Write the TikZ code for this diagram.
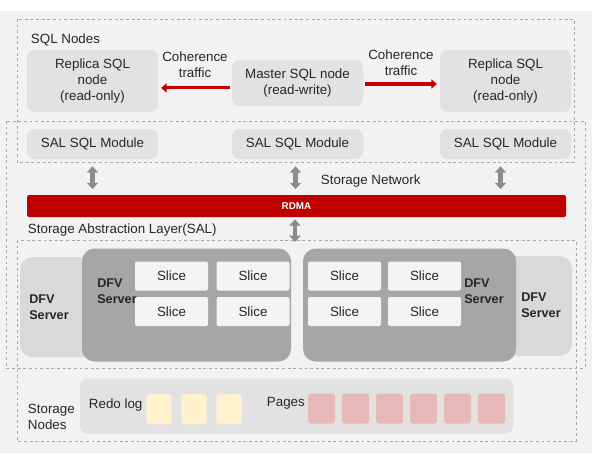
\documentclass[tikz,border=0pt]{standalone}
\usepackage{fontspec}
\setmainfont{Liberation Sans}
\usetikzlibrary{arrows.meta}
\definecolor{bgcol}{HTML}{F2F2F2}
\definecolor{boxgray}{HTML}{E2E2E2}
\definecolor{lightsrv}{HTML}{D9D9D9}
\definecolor{darksrv}{HTML}{A6A6A6}
\definecolor{slicecol}{HTML}{F4F4F4}
\definecolor{rdmared}{HTML}{C00000}
\definecolor{framecol}{HTML}{A8A8A8}
\definecolor{arrowgray}{HTML}{8C8C8C}
\definecolor{redocol}{HTML}{FFF2CC}
\definecolor{pagecol}{HTML}{E6B8B7}

\begin{document}
\begin{tikzpicture}[x=0.025cm,y=-0.025cm,
  font=\fontsize{9.5}{11.5}\selectfont, text=black!85,
  frame/.style={draw=framecol,line width=0.6pt,dash pattern=on 2pt off 2pt},
  box/.style 2 args={fill=boxgray,rounded corners=5pt,align=center,inner sep=0pt,
    minimum width=#1*0.025cm,minimum height=#2*0.025cm},
  srvback/.style 2 args={box={#1}{#2},fill=lightsrv,rounded corners=9pt},
  srvfront/.style 2 args={box={#1}{#2},fill=darksrv,rounded corners=9pt},
  srvlabel/.style={font=\bfseries\fontsize{9}{11.5}\selectfont,align=left,inner sep=0pt},
  slice/.style={box={73}{29},fill=slicecol,rounded corners=1.5pt},
  rdmabar/.style={box={539}{22},fill=rdmared,text=white,rounded corners=1.5pt,
    font=\bfseries\fontsize{7}{8}\selectfont},
  cohtraffic/.style={draw=rdmared,line width=2.2pt,-{Triangle[length=4pt,width=6.5pt]},
    shorten <=1.5pt,shorten >=2pt},
  dbl/.style={draw=arrowgray,line width=3pt,
    {Triangle[length=4.5pt,width=8pt]}-{Triangle[length=4.5pt,width=8pt]}},
  redo/.style={box={25}{30},fill=redocol,draw=redocol!80!black!30,rounded corners=2pt},
  page/.style={box={27}{30},fill=pagecol,rounded corners=2pt}]

\fill[bgcol] (0,11) rectangle (592,453);
\useasboundingbox (0,0) rectangle (602,453);

\draw[frame] (17,19) rectangle (574,162);
\draw[frame] (6,121) rectangle (585,368);
\draw[frame] (17,240) rectangle (576,441);

\node[anchor=west] (sqltitle) at (26,40) {SQL Nodes};
\node[box={131}{62}] (replicaL) at (92.5,81) {Replica SQL\\node\\(read-only)};
\node[box={131}{46}] (master) at (297.5,83) {Master SQL node\\(read-write)};
\node[box={131}{62}] (replicaR) at (505.5,81) {Replica SQL\\node\\(read-only)};
\node[align=center] (cohL) at (195,65) {Coherence\\traffic};
\node[align=center] (cohR) at (401,63) {Coherence\\traffic};
\draw[cohtraffic] ([yshift=-3.5pt]master.west) -- ([yshift=-3.5pt]master.west -| replicaL.east);
\draw[cohtraffic] ([yshift=-0.7pt]master.east) -- ([yshift=-0.7pt]master.east -| replicaR.west);

\foreach \n/\x in {salL/92.5,salM/297.5,salR/505.5}
  \node[box={131}{30}] (\n) at (\x,144) {SAL SQL Module};
\node[rdmabar] (rdma) at (296.5,206) {RDMA};
\foreach \n/\dx in {salL/0,salM/-2,salR/-5}
  \draw[dbl,shorten <=5pt,shorten >=4pt] ([xshift=\dx*0.025cm]\n.south)
    -- ([xshift=\dx*0.025cm]rdma.north -| \n.south);
\node[anchor=west] (stnet) at (316,181) {Storage Network};
\node[anchor=west] (saltitle) at (23,230) {Storage Abstraction Layer(SAL)};
\coordinate (dfvtop) at (295,242);
\draw[dbl,shorten <=1.5pt] (rdma.south -| dfvtop) -- (dfvtop);

\node[srvback={212}{100}] (dfvBackL) at (126,307) {};
\node[srvback={208}{100}] (dfvBackR) at (468,306) {};
\node[srvlabel,anchor=west] (lblBackL) at (29,307) {DFV\\Server};
\node[srvlabel,anchor=west] (lblBackR) at (521,305) {DFV\\Server};
\node[srvfront={209}{113}] (dfvL) at (186.5,305) {};
\node[srvfront={213}{113}] (dfvR) at (409.5,305) {};
\node[srvlabel,anchor=west] (lblL) at (97,291) {DFV\\Server};
\node[srvlabel,anchor=west] (lblR) at (464,291) {DFV\\Server};
\foreach \x [count=\i] in {171.5,253,344.5,424.5}
  \foreach \y [count=\j] in {276,311.5}
    \node[slice] (slice\i\j) at (\x,\y) {Slice};

\node[box={433}{55}] (storage) at (296.5,406) {};
\node[anchor=west,align=left] (stlabel) at (23,417) {Storage\\Nodes};
\node[anchor=west] (redolbl) at (84,405) {Redo log};
\foreach \i in {1,2,3}
  \node[redo] (redo\i) at (124+35*\i,409) {};
\node[anchor=west] (pagelbl) at (262,403) {Pages};
\foreach \i in {1,...,6}
  \node[page] (page\i) at (287.5+34*\i,408.5) {};
\end{tikzpicture}
\end{document}
